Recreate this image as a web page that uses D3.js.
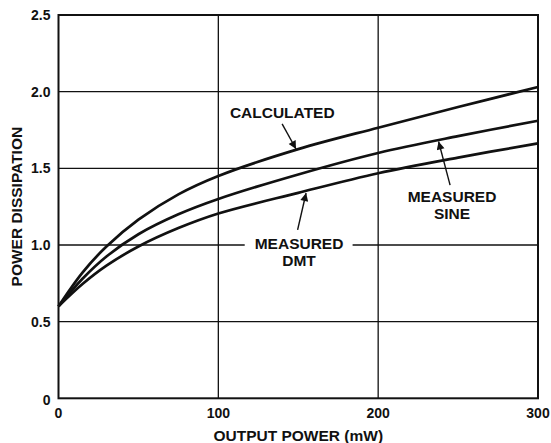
<!DOCTYPE html>
<html>
<head>
<meta charset="utf-8">
<script src="https://cdn.jsdelivr.net/npm/d3@7"></script>
<style>
  body { margin: 0; background: #fff; }
  text { font-family: 'Liberation Sans', Arial, Helvetica, sans-serif; font-weight: bold; fill: #111; }
</style>
</head>
<body>
<div id="chart"></div>
<script>
// output power (mW)
const outputPower = [0, 15, 30, 50, 75, 100, 150, 200, 250, 300]
// power dissipation (W)
const calculated = [0.6, 0.82, 0.99, 1.165, 1.33, 1.45, 1.625, 1.765, 1.9, 2.03]
const measuredSine = [0.6, 0.78, 0.925, 1.07, 1.2, 1.3, 1.46, 1.6, 1.71, 1.81]
const measuredDMT = [0.6, 0.745, 0.865, 0.99, 1.11, 1.205, 1.34, 1.468, 1.57, 1.663]

const xTicks = [0, 100, 200, 300]
const yTicks = [0, 0.5, 1.0, 1.5, 2.0, 2.5]

let margin = { top: 15, right: 13, bottom: 44.7, left: 58.5 }
let width = 551 - margin.left - margin.right
let height = 443 - margin.top - margin.bottom

let svg = d3.select('#chart')
  .append('svg')
  .attr('width', 551)
  .attr('height', 443)

svg.append('defs')
  .append('marker')
  .attr('id', 'arrow')
  .attr('viewBox', '0 0 10 10')
  .attr('refX', 10)
  .attr('refY', 5)
  .attr('markerUnits', 'userSpaceOnUse')
  .attr('markerWidth', 13)
  .attr('markerHeight', 8)
  .attr('orient', 'auto')
  .append('path')
  .attr('d', 'M0,0 L10,5 L0,10 Z')
  .attr('fill', '#111')

let g = svg.append('g')
  .attr('transform', 'translate(' + margin.left + ',' + margin.top + ')')

let x = d3.scaleLinear().domain([0, 300]).range([0, width])
let y = d3.scaleLinear().domain([0, 2.5]).range([height, 0])

// gridlines
g.selectAll('.hgrid')
  .data(yTicks.filter(d => d > 0 && d < 2.5))
  .enter().append('line')
  .attr('x1', 0).attr('x2', width)
  .attr('y1', d => y(d)).attr('y2', d => y(d))
  .attr('stroke', '#111').attr('stroke-width', 1.3)

g.selectAll('.vgrid')
  .data(xTicks.filter(d => d > 0 && d < 300))
  .enter().append('line')
  .attr('y1', 0).attr('y2', height)
  .attr('x1', d => x(d)).attr('x2', d => x(d))
  .attr('stroke', '#111').attr('stroke-width', 1.3)

// tick labels
g.selectAll('.ylab')
  .data(yTicks)
  .enter().append('text')
  .attr('x', -8)
  .attr('y', d => y(d) + (d === 0 ? 7 : 5))
  .attr('text-anchor', 'end')
  .style('font-size', '14px')
  .text(d => d === 0 ? '0' : d3.format('.1f')(d))

g.selectAll('.xlab')
  .data(xTicks)
  .enter().append('text')
  .attr('x', d => x(d))
  .attr('y', height + 20)
  .attr('text-anchor', 'middle')
  .style('font-size', '14px')
  .text(d => d)

// axis titles
svg.append('text')
  .attr('transform', 'translate(21.5,' + (margin.top + y(1.25)) + ') rotate(-90)')
  .attr('text-anchor', 'middle')
  .style('font-size', '15.5px')
  .text('POWER DISSIPATION')

svg.append('text')
  .attr('x', margin.left + x(150))
  .attr('y', 441)
  .attr('text-anchor', 'middle')
  .style('font-size', '15.5px')
  .text('OUTPUT POWER (mW)')

// curves
let line = d3.line()
  .x((d, i) => x(outputPower[i]))
  .y(d => y(d))
  .curve(d3.curveCatmullRom.alpha(0.5))

;[calculated, measuredSine, measuredDMT].forEach(series => {
  g.append('path')
    .datum(series)
    .attr('d', line)
    .attr('fill', 'none')
    .attr('stroke', '#111')
    .attr('stroke-width', 2.7)
})

// frame
g.append('rect')
  .attr('width', width).attr('height', height)
  .attr('fill', 'none')
  .attr('stroke', '#111').attr('stroke-width', 2)

// annotations
function label(lines, cx, baseY, gap) {
  lines.forEach((t, i) => {
    g.append('text')
      .attr('x', x(cx))
      .attr('y', y(baseY) + i * gap)
      .attr('text-anchor', 'middle')
      .style('font-size', '15.5px')
      .text(t)
  })
}

function arrow(x1, y1, x2, y2) {
  g.append('line')
    .attr('x1', x(x1)).attr('y1', y(y1))
    .attr('x2', x(x2)).attr('y2', y(y2))
    .attr('stroke', '#111').attr('stroke-width', 1.4)
    .attr('marker-end', 'url(#arrow)')
}

label(['CALCULATED'], 140, 1.828, 0)
arrow(139.9, 1.79, 148.6, 1.626)

// white gap in the 1.0 gridline behind the DMT label
g.append('rect')
  .attr('x', x(116.5)).attr('width', x(184) - x(116.5))
  .attr('y', y(1.0) - 3).attr('height', 6)
  .attr('fill', '#fff')
label(['MEASURED', 'DMT'], 150.5, 0.971, 17)
arrow(149.6, 1.098, 154.9, 1.339)

label(['MEASURED', 'SINE'], 246.2, 1.282, 17)
arrow(245, 1.39, 237.8, 1.675)
</script>
</body>
</html>
